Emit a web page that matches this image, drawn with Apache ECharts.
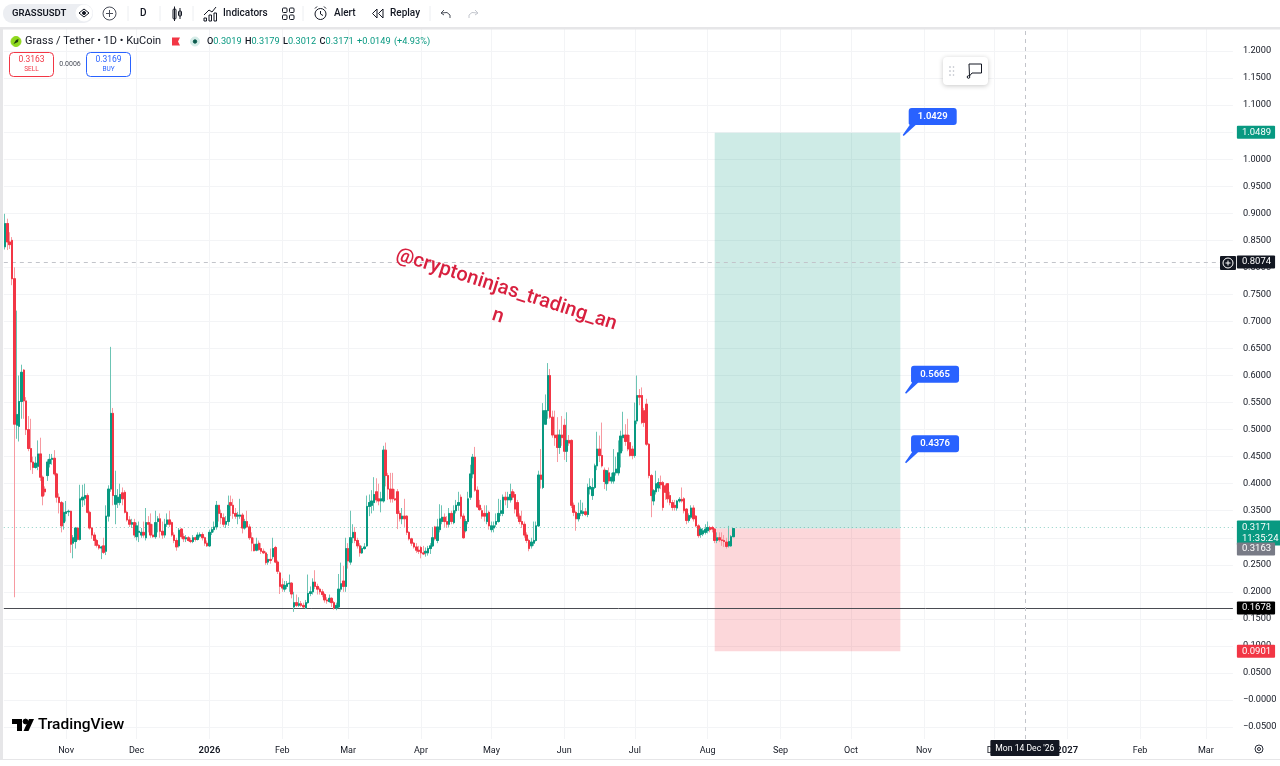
<!DOCTYPE html>
<html>
<head>
<meta charset="utf-8">
<title>GRASSUSDT</title>
<script src="https://cdn.jsdelivr.net/npm/echarts@6/dist/echarts.min.js"></script>
<style>
html, body { margin: 0; padding: 0; background: #fff; }
#main { width: 1280px; height: 766px; }
</style>
</head>
<body>
<div id="main"></div>
<script>
// daily candles, first one is 6 Oct 2025
var opens = [
0.838,0.881,0.847,0.850,0.779,0.508,0.506,0.552,0.610,0.553,
0.500,0.465,0.440,0.430,0.432,0.455,0.412,0.390,0.415,0.437,
0.445,0.447,0.418,0.375,0.365,0.328,0.345,0.348,0.349,0.290,
0.293,0.318,0.297,0.370,0.373,0.378,0.347,0.318,0.305,0.295,
0.286,0.281,0.285,0.275,0.340,0.390,0.530,0.362,0.365,0.365,
0.383,0.384,0.347,0.333,0.325,0.328,0.302,0.310,0.305,0.310,
0.300,0.328,0.325,0.305,0.302,0.330,0.335,0.312,0.305,0.325,
0.333,0.328,0.305,0.295,0.285,0.316,0.302,0.298,0.300,0.295,
0.293,0.300,0.297,0.303,0.306,0.300,0.290,0.285,0.310,0.315,
0.320,0.360,0.345,0.337,0.325,0.330,0.365,0.360,0.345,0.340,
0.340,0.342,0.318,0.330,0.320,0.300,0.288,0.277,0.290,0.280,
0.275,0.272,0.255,0.260,0.265,0.282,0.255,0.235,0.213,0.205,
0.210,0.215,0.216,0.172,0.180,0.175,0.178,0.175,0.170,0.180,
0.197,0.200,0.218,0.210,0.205,0.200,0.195,0.185,0.182,0.188,
0.180,0.170,0.172,0.205,0.220,0.210,0.280,0.255,0.300,0.310,
0.295,0.285,0.272,0.280,0.285,0.358,0.360,0.365,0.385,0.372,
0.368,0.368,0.462,0.415,0.390,0.390,0.372,0.385,0.345,0.335,
0.340,0.340,0.310,0.298,0.290,0.283,0.277,0.282,0.272,0.272,
0.272,0.280,0.285,0.320,0.295,0.315,0.330,0.338,0.330,0.325,
0.345,0.328,0.350,0.360,0.375,0.340,0.313,0.330,0.375,0.418,
0.449,0.388,0.360,0.350,0.345,0.330,0.347,0.315,0.318,0.325,
0.330,0.345,0.345,0.375,0.370,0.370,0.385,0.380,0.365,0.340,
0.330,0.325,0.305,0.295,0.285,0.290,0.295,0.322,0.416,0.393,
0.510,0.535,0.600,0.523,0.490,0.490,0.467,0.490,0.508,0.460,
0.480,0.480,0.360,0.347,0.335,0.345,0.345,0.348,0.343,0.390,
0.378,0.393,0.433,0.464,0.452,0.425,0.400,0.420,0.405,0.405,
0.420,0.420,0.457,0.485,0.490,0.490,0.476,0.464,0.452,0.516,
0.563,0.563,0.535,0.547,0.473,0.415,0.368,0.385,0.392,0.402,
0.402,0.396,0.400,0.378,0.365,0.360,0.355,0.368,0.371,0.372,
0.353,0.332,0.338,0.355,0.340,0.322,0.306,0.307,0.310,0.313,
0.319,0.319,0.316,0.295,0.300,0.296,0.295,0.292,0.285,0.285,
0.3019];
var highs = [
0.899,0.890,0.865,0.856,0.800,0.720,0.600,0.620,0.612,0.560,
0.525,0.520,0.450,0.450,0.480,0.485,0.415,0.395,0.445,0.455,
0.455,0.462,0.420,0.382,0.368,0.365,0.368,0.352,0.350,0.305,
0.320,0.320,0.398,0.398,0.400,0.382,0.350,0.320,0.310,0.298,
0.288,0.285,0.300,0.360,0.397,0.653,0.540,0.424,0.390,0.400,
0.393,0.388,0.350,0.340,0.335,0.335,0.328,0.330,0.318,0.330,
0.355,0.340,0.345,0.325,0.350,0.340,0.345,0.330,0.335,0.345,
0.350,0.330,0.310,0.300,0.318,0.318,0.308,0.305,0.303,0.300,
0.305,0.302,0.310,0.310,0.310,0.302,0.295,0.315,0.320,0.330,
0.368,0.360,0.352,0.345,0.340,0.378,0.378,0.372,0.355,0.348,
0.372,0.346,0.335,0.350,0.325,0.310,0.300,0.300,0.295,0.290,
0.280,0.275,0.270,0.280,0.300,0.285,0.258,0.238,0.225,0.220,
0.220,0.232,0.218,0.200,0.195,0.190,0.183,0.180,0.185,0.232,
0.210,0.225,0.240,0.215,0.208,0.205,0.198,0.190,0.195,0.190,
0.183,0.180,0.233,0.254,0.248,0.300,0.290,0.350,0.325,0.320,
0.300,0.290,0.285,0.290,0.378,0.380,0.388,0.412,0.410,0.400,
0.385,0.470,0.476,0.420,0.420,0.420,0.390,0.390,0.350,0.355,
0.372,0.342,0.312,0.300,0.292,0.290,0.285,0.285,0.285,0.282,
0.285,0.290,0.320,0.322,0.335,0.362,0.360,0.345,0.340,0.355,
0.350,0.360,0.370,0.385,0.380,0.345,0.335,0.385,0.435,0.455,
0.468,0.395,0.370,0.355,0.360,0.360,0.350,0.330,0.330,0.345,
0.372,0.370,0.380,0.385,0.385,0.400,0.390,0.385,0.370,0.345,
0.350,0.330,0.310,0.298,0.300,0.330,0.330,0.424,0.464,0.549,
0.565,0.623,0.612,0.535,0.535,0.523,0.500,0.525,0.520,0.532,
0.490,0.482,0.365,0.350,0.365,0.370,0.365,0.355,0.400,0.410,
0.410,0.437,0.496,0.489,0.513,0.430,0.425,0.430,0.420,0.464,
0.450,0.480,0.498,0.533,0.510,0.520,0.490,0.470,0.550,0.600,
0.575,0.578,0.540,0.557,0.475,0.418,0.390,0.424,0.410,0.415,
0.405,0.400,0.400,0.385,0.370,0.370,0.370,0.375,0.393,0.375,
0.355,0.345,0.360,0.360,0.342,0.325,0.320,0.318,0.325,0.330,
0.322,0.322,0.318,0.310,0.310,0.310,0.305,0.300,0.322,0.305,
0.3179];
var lows = [
0.833,0.832,0.834,0.767,0.190,0.483,0.478,0.520,0.520,0.490,
0.460,0.425,0.418,0.428,0.425,0.405,0.360,0.378,0.405,0.430,
0.435,0.415,0.365,0.345,0.310,0.315,0.330,0.340,0.272,0.262,
0.280,0.295,0.295,0.357,0.360,0.345,0.315,0.298,0.285,0.282,
0.278,0.2605,0.270,0.268,0.330,0.385,0.360,0.325,0.355,0.360,
0.360,0.345,0.330,0.320,0.318,0.300,0.295,0.292,0.300,0.300,
0.295,0.310,0.300,0.300,0.298,0.310,0.300,0.298,0.300,0.320,
0.320,0.302,0.290,0.276,0.282,0.298,0.292,0.292,0.293,0.290,
0.290,0.293,0.295,0.300,0.295,0.285,0.283,0.283,0.305,0.310,
0.315,0.330,0.325,0.320,0.318,0.322,0.340,0.335,0.335,0.325,
0.335,0.308,0.315,0.318,0.296,0.275,0.275,0.275,0.276,0.270,
0.270,0.250,0.250,0.252,0.260,0.253,0.233,0.196,0.200,0.200,
0.205,0.200,0.188,0.163,0.172,0.172,0.172,0.170,0.168,0.178,
0.192,0.195,0.205,0.195,0.195,0.190,0.180,0.178,0.180,0.172,
0.167,0.166,0.170,0.200,0.200,0.200,0.243,0.250,0.290,0.290,
0.280,0.265,0.270,0.278,0.283,0.340,0.345,0.350,0.365,0.360,
0.347,0.365,0.395,0.370,0.365,0.365,0.368,0.316,0.330,0.325,
0.320,0.305,0.295,0.285,0.280,0.272,0.270,0.262,0.268,0.265,
0.267,0.270,0.283,0.295,0.290,0.310,0.325,0.320,0.318,0.320,
0.325,0.325,0.345,0.350,0.335,0.298,0.310,0.325,0.370,0.410,
0.385,0.355,0.350,0.335,0.330,0.325,0.315,0.310,0.310,0.320,
0.328,0.340,0.340,0.360,0.355,0.365,0.370,0.345,0.335,0.325,
0.318,0.300,0.290,0.275,0.280,0.285,0.293,0.320,0.391,0.390,
0.510,0.520,0.520,0.485,0.470,0.440,0.455,0.470,0.444,0.440,
0.470,0.355,0.340,0.313,0.330,0.340,0.340,0.340,0.338,0.380,
0.370,0.390,0.425,0.440,0.430,0.390,0.387,0.400,0.400,0.400,
0.415,0.415,0.430,0.460,0.470,0.460,0.450,0.445,0.448,0.510,
0.545,0.510,0.505,0.470,0.410,0.338,0.360,0.380,0.385,0.390,
0.350,0.370,0.365,0.360,0.350,0.350,0.350,0.365,0.365,0.345,
0.325,0.328,0.335,0.330,0.320,0.300,0.300,0.303,0.306,0.308,
0.310,0.310,0.290,0.290,0.292,0.285,0.283,0.280,0.282,0.283,
0.3012];
var closes = [
0.881,0.847,0.842,0.779,0.510,0.528,0.552,0.606,0.553,0.500,
0.465,0.440,0.430,0.438,0.455,0.412,0.377,0.385,0.440,0.445,
0.447,0.418,0.375,0.365,0.322,0.347,0.348,0.349,0.288,0.300,
0.318,0.297,0.372,0.375,0.378,0.347,0.318,0.305,0.295,0.286,
0.281,0.283,0.273,0.340,0.390,0.530,0.378,0.378,0.375,0.380,
0.372,0.347,0.333,0.325,0.328,0.305,0.322,0.312,0.310,0.305,
0.328,0.325,0.305,0.302,0.328,0.335,0.312,0.305,0.325,0.333,
0.325,0.305,0.295,0.283,0.314,0.302,0.298,0.300,0.295,0.293,
0.300,0.297,0.305,0.306,0.300,0.290,0.285,0.310,0.315,0.320,
0.360,0.345,0.337,0.325,0.330,0.360,0.360,0.345,0.340,0.342,
0.342,0.318,0.330,0.320,0.300,0.290,0.276,0.288,0.278,0.275,
0.272,0.254,0.260,0.258,0.280,0.255,0.238,0.210,0.207,0.212,
0.215,0.216,0.196,0.180,0.175,0.178,0.175,0.172,0.180,0.197,
0.200,0.218,0.210,0.205,0.200,0.195,0.185,0.183,0.188,0.180,
0.170,0.175,0.205,0.215,0.210,0.280,0.257,0.300,0.310,0.295,
0.285,0.272,0.280,0.283,0.358,0.365,0.368,0.380,0.370,0.368,
0.372,0.462,0.415,0.390,0.372,0.372,0.370,0.345,0.335,0.340,
0.335,0.310,0.298,0.290,0.283,0.277,0.275,0.272,0.270,0.275,
0.280,0.285,0.300,0.298,0.320,0.335,0.338,0.330,0.325,0.345,
0.330,0.350,0.360,0.365,0.340,0.300,0.330,0.372,0.418,0.449,
0.388,0.357,0.352,0.340,0.340,0.345,0.322,0.322,0.322,0.330,
0.345,0.350,0.375,0.370,0.375,0.380,0.375,0.353,0.340,0.330,
0.325,0.305,0.295,0.280,0.292,0.295,0.322,0.416,0.408,0.535,
0.535,0.600,0.523,0.490,0.485,0.467,0.490,0.485,0.460,0.480,
0.475,0.360,0.347,0.335,0.345,0.350,0.348,0.343,0.393,0.395,
0.393,0.433,0.464,0.452,0.433,0.404,0.424,0.405,0.412,0.420,
0.427,0.457,0.488,0.490,0.478,0.464,0.452,0.452,0.516,0.563,
0.560,0.513,0.513,0.473,0.415,0.378,0.387,0.400,0.402,0.398,
0.356,0.384,0.372,0.365,0.356,0.356,0.368,0.371,0.368,0.350,
0.332,0.341,0.355,0.335,0.322,0.304,0.316,0.313,0.316,0.319,
0.315,0.316,0.295,0.300,0.296,0.295,0.293,0.284,0.293,0.302,
0.3171];

var firstDay = '2025-10-06';
var dayCount = 523;

var priceTicks = [-0.05,0,0.05,0.1,0.15,0.2,0.25,0.3,0.35,0.4,0.45,0.5,0.55,0.6,0.65,0.7,0.75,0.8,0.85,0.9,0.95,1,1.05,1.1,1.15,1.2];

var monthDays = ['2025-11-01','2025-12-01','2026-01-01','2026-02-01','2026-03-01','2026-04-01','2026-05-01','2026-06-01','2026-07-01','2026-08-01','2026-09-01','2026-10-01','2026-11-01','2026-12-01','2027-01-01','2027-02-01','2027-03-01'];
var monthNames = ['Nov','Dec','2026','Feb','Mar','Apr','May','Jun','Jul','Aug','Sep','Oct','Nov','Dec','2027','Feb','Mar'];

// long position tool and price levels
var entryPrice = 0.3171;
var targetPrice = 1.0489;
var stopPrice = 0.0901;
var supportPrice = 0.1678;
var crossPrice = 0.8074;
var bidPrice = 0.3163;
var crossDay = '2026-12-14';
var toolStart = '2026-08-04';
var toolEnd = '2026-10-22';

var callouts = [
    { price: 1.0429, day: '2026-10-23' },
    { price: 0.5665, day: '2026-10-24' },
    { price: 0.4376, day: '2026-10-24' }
];

var dates = [];
var d0 = new Date(firstDay + 'T00:00:00Z');
for (var i = 0; i < dayCount; i++) {
    dates.push(new Date(d0.getTime() + i * 86400000).toISOString().slice(0, 10));
}

var candles = opens.map(function (o, i) {
    return [o, closes[i], lows[i], highs[i]];
});
// same candles without wicks, drawn on top so the wicks stay paler than the bodies
var bodies = opens.map(function (o, i) {
    return [o, closes[i], Math.min(o, closes[i]), Math.max(o, closes[i])];
});

var FONT = 'Roboto, "Noto Sans", sans-serif';
var INK = '#131722';
var UP = '#089981';
var DOWN = '#f23645';
var CROSS = '#c2c4ca';
var CALLOUT_PATH = 'path://M9 0H51A3 3 0 0 1 54 3V14A3 3 0 0 1 51 17H13L1 28L0 27L7 17A3 3 0 0 1 6 14V3A3 3 0 0 1 9 0Z';

function tagLine(price, lineStyle, bg, text, offsetY, lineHeight) {
    return {
        yAxis: price,
        lineStyle: lineStyle,
        label: {
            show: true,
            position: 'end',
            distance: 4,
            formatter: text,
            color: '#fff',
            fontFamily: FONT,
            fontSize: 9.5,
            lineHeight: lineHeight || 10,
            backgroundColor: bg,
            padding: [2, 4, 1, 5],
            borderRadius: 1,
            offset: [0, offsetY || 0]
        }
    };
}

var noLine = { color: 'transparent', width: 1 };

var option = {
    animation: false,
    backgroundColor: '#fff',
    grid: { left: 3.825, top: 29, width: 1229.05, height: 710 },
    xAxis: {
        type: 'category',
        data: dates,
        axisLine: { show: false },
        axisTick: { show: false },
        splitLine: {
            show: true,
            alignWithLabel: true,
            interval: function (i, v) { return monthDays.indexOf(v) >= 0; },
            lineStyle: { color: '#f3f4f6', width: 1 }
        },
        axisLabel: {
            interval: function (i, v) { return monthDays.indexOf(v) >= 0; },
            margin: 7,
            color: INK,
            fontFamily: FONT,
            fontSize: 9,
            formatter: function (v) {
                var name = monthNames[monthDays.indexOf(v)];
                return /^\d+$/.test(name) ? '{y|' + name + '}' : name;
            },
            rich: { y: { fontFamily: FONT, fontSize: 9.5, fontWeight: 600, color: INK } }
        }
    },
    yAxis: {
        type: 'value',
        position: 'right',
        min: -0.07212,
        max: 1.24075,
        axisLine: { show: false },
        axisTick: { show: false, customValues: priceTicks },
        splitLine: { show: true, lineStyle: { color: '#f3f4f6', width: 1 } },
        axisLabel: {
            customValues: priceTicks,
            margin: 10,
            color: INK,
            fontFamily: FONT,
            fontSize: 9.2,
            formatter: function (v) {
                if (v <= 0) return '\u2212' + Math.abs(v).toFixed(4);
                return v.toFixed(4);
            }
        }
    },
    series: [{
        name: 'GRASSUSDT',
        type: 'candlestick',
        data: candles,
        barWidth: 2,
        z: 5,
        itemStyle: {
            color: '#6cc4b4',
            color0: '#f79aa1',
            borderColor: '#6cc4b4',
            borderColor0: '#f79aa1',
            borderColorDoji: '#6cc4b4',
            borderWidth: 1
        },
        markArea: {
            silent: true,
            data: [
                [{ xAxis: toolStart, yAxis: targetPrice, itemStyle: { color: 'rgba(8,153,129,0.2)' } }, { xAxis: toolEnd, yAxis: entryPrice }],
                [{ xAxis: toolStart, yAxis: entryPrice, itemStyle: { color: 'rgba(242,54,69,0.2)' } }, { xAxis: toolEnd, yAxis: stopPrice }]
            ]
        },
        markLine: {
            silent: true,
            symbol: 'none',
            animation: false,
            data: [
                tagLine(crossPrice, { color: CROSS, type: [4, 4], width: 1 }, INK, String(crossPrice)),
                tagLine(supportPrice, { color: '#4a4c52', type: 'solid', width: 1 }, '#000', String(supportPrice)),
                tagLine(entryPrice, { color: 'rgba(8,153,129,0.45)', type: [1, 3], width: 1 }, UP, entryPrice + '\n11:35:24', 6, 11),
                tagLine(bidPrice, noLine, '#787b86', String(bidPrice), 22),
                tagLine(targetPrice, noLine, UP, String(targetPrice)),
                tagLine(stopPrice, noLine, DOWN, String(stopPrice)),
                {
                    xAxis: crossDay,
                    lineStyle: { color: CROSS, type: [4, 4], width: 1 },
                    label: {
                        show: true,
                        position: 'start',
                        distance: 1,
                        formatter: "Mon 14 Dec '26",
                        color: '#fff',
                        fontFamily: FONT,
                        fontSize: 8.6,
                        backgroundColor: INK,
                        padding: [4, 5, 3, 5],
                        borderRadius: 1
                    }
                }
            ]
        },
        markPoint: {
            silent: true,
            symbol: CALLOUT_PATH,
            symbolSize: [54, 28],
            symbolOffset: [27, -14],
            itemStyle: { color: '#2962ff' },
            label: {
                show: true,
                position: 'inside',
                offset: [3, -5.5],
                color: '#fff',
                fontFamily: FONT,
                fontSize: 9.5,
                fontWeight: 600,
                formatter: '{c}'
            },
            data: callouts.map(function (c) {
                return { coord: [c.day, c.price], value: c.price.toFixed(4) };
            })
        }
    }, {
        name: 'bodies',
        type: 'candlestick',
        data: bodies,
        barWidth: 2,
        z: 6,
        itemStyle: {
            color: UP,
            color0: DOWN,
            borderColor: UP,
            borderColor0: DOWN,
            borderColorDoji: UP,
            borderWidth: 1
        }
    }],
    graphic: buildChrome()
};

// toolbar, legend, logo and the other bits around the plot
function txt(x, y, text, size, color, extra) {
    var style = { x: 0, y: 0, text: text, fontFamily: FONT, fontSize: size, fill: color, verticalAlign: 'middle', align: 'left' };
    for (var k in extra) style[k] = extra[k];
    return { type: 'text', x: x, y: y, z: 100, silent: true, style: style };
}
function box(x, y, w, h, fill, stroke, r, z) {
    return { type: 'rect', z: z || 90, silent: true, shape: { x: x, y: y, width: w, height: h, r: r || 0 }, style: { fill: fill, stroke: stroke || null, lineWidth: stroke ? 1 : 0 } };
}
function line(x1, y1, x2, y2, color) {
    return { type: 'line', z: 100, silent: true, shape: { x1: x1, y1: y1, x2: x2, y2: y2 }, style: { stroke: color || INK, lineWidth: 1 } };
}
function poly(points, color, fill) {
    return { type: fill ? 'polygon' : 'polyline', z: 100, silent: true, shape: { points: points }, style: fill ? { fill: color } : { stroke: color || INK, lineWidth: 1, fill: null } };
}
function ring(x, y, r, stroke, fill) {
    return { type: 'circle', z: 100, silent: true, shape: { cx: x, cy: y, r: r }, style: { stroke: stroke, fill: fill || null, lineWidth: 1 } };
}

function buildChrome() {
    var els = [];
    // frame
    els.push(box(0, 0, 1280, 27, '#fff'));
    els.push(box(0, 27, 1280, 2.5, '#e6e6e8'));
    els.push(box(0, 29, 3, 731, '#e6e6e8'));
    els.push(box(3, 759, 1277, 1, '#e6e6e8'));

    // top toolbar
    els.push(box(3, 4, 90, 19, '#eceef2', null, 9));
    els.push(txt(12, 13.5, 'GRASSUSDT', 9.5, INK, { fontWeight: 600 }));
    els.push(ring(84, 13, 8, '#fff', '#fff'));
    els.push(poly([[79, 13], [84, 9], [89, 13], [84, 17], [79, 13]], INK));
    els.push(ring(84, 13, 1.5, INK, INK));
    els.push(ring(109.5, 13.5, 6.5, '#4a4e59'));
    els.push(line(106, 13.5, 113, 13.5, '#4a4e59'));
    els.push(line(109.5, 10, 109.5, 17, '#4a4e59'));
    els.push(txt(140, 13.5, 'D', 10, INK, { fontWeight: 500 }));
    [128, 160, 193, 303, 430].forEach(function (x) { els.push(line(x, 6, x, 21, '#eceef1')); });
    els.push(box(173, 9, 3, 10, null, INK, 1));
    els.push(box(178.5, 11, 3, 5, null, INK, 1));
    els.push(line(174.5, 6.5, 174.5, 21, INK));
    els.push(line(180, 8, 180, 19, INK));
    els.push(poly([[204, 15], [209, 10], [212, 12], [216, 7]], INK));
    els.push(box(204, 18, 2.5, 3, null, INK));
    els.push(box(209, 15, 2.5, 6, null, INK));
    els.push(box(214, 13, 2.5, 8, null, INK));
    els.push(txt(223, 13.5, 'Indicators', 10, INK, { fontWeight: 500 }));
    els.push(box(282.5, 8, 4.5, 4.5, null, INK, 1));
    els.push(box(289.5, 8, 4.5, 4.5, null, INK, 1));
    els.push(box(282.5, 15, 4.5, 4.5, null, INK, 1));
    els.push(box(289.5, 15, 4.5, 4.5, null, INK, 1));
    els.push(ring(320.5, 14, 5.5, INK));
    els.push(poly([[320.5, 11], [320.5, 14], [323, 15.5]], INK));
    els.push(line(315, 8.5, 317, 6.5, INK));
    els.push(line(324, 6.5, 326, 8.5, INK));
    els.push(txt(334, 13.5, 'Alert', 10, INK, { fontWeight: 500 }));
    els.push(poly([[377, 9], [372.5, 13.5], [377, 18], [377, 9]], INK));
    els.push(poly([[383, 9], [378.5, 13.5], [383, 18], [383, 9]], INK));
    els.push(txt(390, 13.5, 'Replay', 10, INK, { fontWeight: 500 }));
    els.push(poly([[444, 10], [441, 13], [444, 15]], '#4a4e59'));
    els.push(poly([[441, 13], [447, 12.5], [450, 15], [450, 18]], '#4a4e59'));
    els.push(poly([[475, 10], [478, 13], [475, 15]], '#c4c7ce'));
    els.push(poly([[478, 13], [472, 12.5], [469, 15], [469, 18]], '#c4c7ce'));

    // legend row
    els.push(ring(16, 41.5, 5, '#8fd81e', '#8fd81e'));
    els.push(poly([[13.5, 44], [16, 40], [18.5, 39], [18, 42]], '#1f3d10', true));
    els.push(txt(25, 41.5, 'Grass / Tether \u2022 1D \u2022 KuCoin', 11, INK));
    els.push(poly([[172, 37.5], [180, 37.5], [178, 41.5], [180, 45.5], [172, 45.5]], DOWN, true));
    els.push(ring(195, 41.5, 4.5, '#d5ece8', '#d5ece8'));
    els.push(ring(195, 41.5, 1.7, '#0a5a4c', '#0a5a4c'));
    els.push({
        type: 'text', z: 100, silent: true, x: 207, y: 41.5,
        style: {
            text: '{k|O}{v|0.3019} {k|H}{v|0.3179} {k|L}{v|0.3012} {k|C}{v|0.3171} {v|+0.0149} {v|(+4.93%)}',
            verticalAlign: 'middle',
            rich: {
                k: { fontFamily: FONT, fontSize: 9.2, fill: INK, fontWeight: 500 },
                v: { fontFamily: FONT, fontSize: 9.2, fill: UP }
            }
        }
    });

    // sell / buy
    els.push(box(9.5, 52.5, 44, 24, '#fff', DOWN, 4));
    els.push(txt(31.5, 59.5, '0.3163', 8.5, DOWN, { align: 'center' }));
    els.push(txt(31.5, 69.5, 'SELL', 6.5, DOWN, { align: 'center' }));
    els.push(txt(70, 64.5, '0.0006', 7, '#4a4e59', { align: 'center' }));
    els.push(box(86.5, 52.5, 44, 24, '#fff', '#2962ff', 4));
    els.push(txt(108.5, 59.5, '0.3169', 8.5, '#2962ff', { align: 'center' }));
    els.push(txt(108.5, 69.5, 'BUY', 6.5, '#2962ff', { align: 'center' }));

    // floating drawing toolbar
    els.push({
        type: 'rect', z: 90, silent: true,
        shape: { x: 943, y: 57, width: 45, height: 28, r: 4 },
        style: { fill: '#fff', shadowBlur: 5, shadowColor: 'rgba(0,0,0,0.22)', shadowOffsetY: 1 }
    });
    [67, 71, 75].forEach(function (y) {
        els.push(ring(950, y, 0.5, '#c9ccd3', '#c9ccd3'));
        els.push(ring(953.5, y, 0.5, '#c9ccd3', '#c9ccd3'));
    });
    els.push(poly([[969, 64], [981.5, 64], [981.5, 73], [972, 73], [969.5, 76], [969, 64]], INK));
    els.push(ring(968.5, 77, 1.3, INK, '#fff'));

    // plus button on the crosshair
    els.push(box(1220, 256, 16, 14, INK, null, 1));
    els.push(ring(1228, 263, 5, '#fff'));
    els.push(line(1225.5, 263, 1230.5, 263, '#fff'));
    els.push(line(1228, 260.5, 1228, 265.5, '#fff'));

    // watermark
    els.push({
        type: 'text', z: 100, silent: true, x: 502, y: 303, rotation: -0.31,
        style: {
            text: '@cryptoninjas_trading_an\nn',
            fontFamily: FONT,
            fontSize: 20,
            fontWeight: 500,
            lineHeight: 28,
            fill: '#d8203f',
            align: 'center',
            verticalAlign: 'middle'
        }
    });

    // TradingView logo
    els.push(poly([[12, 719], [22, 719], [22, 731], [17, 731], [17, 724], [12, 724]], '#000', true));
    els.push(ring(25.5, 721.5, 2.4, '#000', '#000'));
    els.push(poly([[29, 719], [34, 719], [28.5, 731], [23.5, 731]], '#000', true));
    els.push(txt(38, 725.5, 'TradingView', 15.5, '#000', { fontWeight: 500 }));

    // settings gear
    els.push(ring(1259, 749, 4, '#2a2e39'));
    els.push(ring(1259, 749, 1.5, '#2a2e39'));
    return els;
}

var myChart = echarts.init(document.getElementById('main'));
myChart.setOption(option);
</script>
</body>
</html>
